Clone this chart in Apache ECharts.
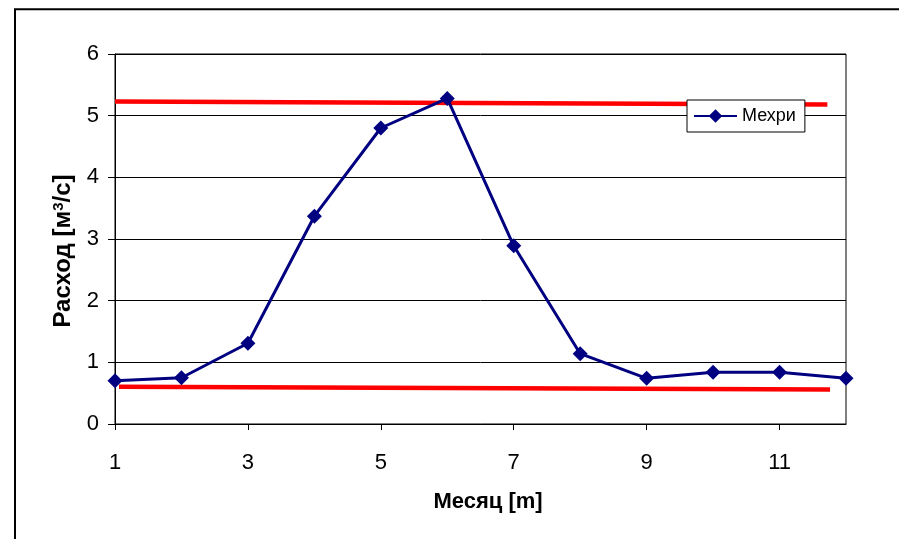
<!DOCTYPE html>
<html>
<head>
<meta charset="utf-8">
<script src="https://cdn.jsdelivr.net/npm/echarts@6/dist/echarts.min.js"></script>
<style>html,body{margin:0;padding:0;background:#fff}#c{width:899px;height:539px}</style>
</head>
<body>
<div id="c"></div>
<script>
var months = [1,2,3,4,5,6,7,8,9,10,11,12];
var flow = [0.70,0.75,1.31,3.37,4.80,5.28,2.89,1.14,0.74,0.84,0.84,0.74];
var upperLine = [[1,5.23],[11.72,5.18]];
var lowerLine = [[1.06,0.605],[11.76,0.56]];
var xTickLabels = [1,3,5,7,9,11];
var seriesName = 'Мехри';
var xTitle = 'Месяц [m]';
var yTitleMain = 'Расход [м';
var yTitleSup = '3';
var yTitleEnd = '/с]';

var chart = echarts.init(document.getElementById('c'), null, {renderer:'canvas'});
var font = 'Arial, "Liberation Sans", sans-serif';
chart.setOption({
  animation:false,
  backgroundColor:'#fff',
  graphic:[
    {type:'rect',shape:{x:15,y:9.3,width:1000,height:1000},style:{fill:'none',stroke:'#000',lineWidth:2},silent:true},
    {type:'text',x:488,y:502,silent:true,
      style:{text:xTitle,font:'bold 22px ' + font,fill:'#000',align:'center',verticalAlign:'middle'}},
    {type:'text',x:63,y:251,rotation:Math.PI/2,silent:true,
      style:{text:yTitleMain + '{sup|' + yTitleSup + '}' + yTitleEnd,fontFamily:font,fontSize:24,fontWeight:'bold',fill:'#000',align:'center',verticalAlign:'middle',
        rich:{sup:{fontFamily:font,fontSize:15,fontWeight:'bold',fill:'#000',verticalAlign:'top',padding:[0,0,9,0]}}}}
  ],
  grid:{left:115,top:54,right:53,bottom:115,show:true,borderColor:'#000',borderWidth:1,backgroundColor:'transparent'},
  legend:{
    data:[seriesName],
    left:687, top:100,
    orient:'vertical',
    backgroundColor:'#fff',
    borderColor:'#000', borderWidth:1, borderRadius:0,
    padding:[7,9,7,6],
    itemWidth:43, itemHeight:17,
    textStyle:{fontFamily:font,fontSize:18,color:'#000'}
  },
  xAxis:{
    type:'value', min:1, max:12,
    axisLine:{show:true,lineStyle:{color:'#000',width:1}},
    axisTick:{show:true,length:6,lineStyle:{color:'#000'},customValues:xTickLabels},
    axisLabel:{fontFamily:font,fontSize:22,color:'#000',margin:28,customValues:xTickLabels},
    splitLine:{show:false}
  },
  yAxis:{
    type:'value', min:0, max:6, interval:1,
    axisLine:{show:true,lineStyle:{color:'#000',width:1}},
    axisTick:{show:true,length:7,lineStyle:{color:'#000'}},
    axisLabel:{fontFamily:font,fontSize:22,color:'#000',margin:16},
    splitLine:{show:true,lineStyle:{color:'#000',width:1}}
  },
  series:[
    {name:'upper',type:'line',data:upperLine,symbol:'none',lineStyle:{color:'#ff0000',width:4.5},z:2,silent:true},
    {name:'lower',type:'line',data:lowerLine,symbol:'none',lineStyle:{color:'#ff0000',width:4.5},z:2,silent:true},
    {name:seriesName,type:'line',data:months.map(function(m,i){return [m,flow[i]];}),
      symbol:'diamond',symbolSize:15,
      itemStyle:{color:'#000080'},
      lineStyle:{color:'#000080',width:3},z:3}
  ]
});
</script>
</body>
</html>
